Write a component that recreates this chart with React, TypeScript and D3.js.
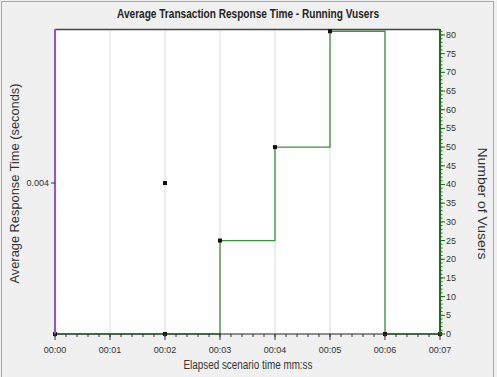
import React from "react";
import * as d3 from "d3";

const title = "Average Transaction Response Time - Running Vusers";
const xTickLabels = ["00:00", "00:01", "00:02", "00:03", "00:04", "00:05", "00:06", "00:07"];
const xTickValues = [0, 1, 2, 3, 4, 5, 6, 7];
const vuserTimes = [0, 2, 3, 4, 5, 6, 7];
const vuserValues = [0, 0, 25, 50, 81, 0, 0];
const respTimes = [2];
const respValues = [0.004];
const rightTicks = [0, 5, 10, 15, 20, 25, 30, 35, 40, 45, 50, 55, 60, 65, 70, 75, 80];
const leftTicks = [0.004];

const W = 497, H = 377;
const L = 55, R = 440, T = 29, B = 334;

export default function App() {
  const x = d3.scaleLinear().domain([0, 7]).range([L, R]);
  const yR = d3.scaleLinear().domain([0, 81.6]).range([B, T]);
  const yL = d3.scaleLinear().domain([0, 0.00808]).range([B, T]);
  const vPts: [number, number][] = vuserTimes.map((t, i) => [t, vuserValues[i]]);
  const line = d3.line<[number, number]>().x(d => x(d[0])).y(d => yR(d[1])).curve(d3.curveStepAfter);
  const minorX = d3.range(0, 7.001, 0.2);
  const minorR = d3.range(0, 82, 1);
  const font = "'Liberation Sans', Arial, sans-serif";
  return (
    <svg width={W} height={H} style={{ position: "absolute", left: 0, top: 0 }} fontFamily={font}>
      <rect x={0} y={0} width={W} height={H} fill="#f0f0f0" />
      <rect x={1.5} y={1.5} width={492} height={380} fill="none" stroke="#a8a8a8" />
      <text x={248} y={18} textAnchor="middle" fontSize={12.5} fontWeight="bold" fill="#222" textLength={262} lengthAdjust="spacingAndGlyphs">{title}</text>
      <rect x={L} y={T} width={R - L} height={B - T} fill="#fff" />
      {xTickValues.slice(1, -1).map(t => (
        <line key={"g" + t} x1={x(t)} x2={x(t)} y1={T} y2={B} stroke="#dcdcdc" />
      ))}
      {/* top border */}
      <line x1={L} x2={R} y1={T + 0.5} y2={T + 0.5} stroke="#444" strokeWidth={1.5} />
      {/* vusers line */}
      <path d={line(vPts) || ""} fill="none" stroke="#3f8f3f" strokeWidth={1.3} />
      {vPts.map((d, i) => (
        <rect key={"v" + i} x={x(d[0]) - 2} y={yR(d[1]) - 2} width={4} height={4} fill="#111" />
      ))}
      {respTimes.map((t, i) => (
        <rect key={"r" + i} x={x(t) - 2} y={yL(respValues[i]) - 2} width={4} height={4} fill="#111" />
      ))}
      {/* left axis */}
      <line x1={L} x2={L} y1={T} y2={B} stroke="#9b4fd8" strokeWidth={2} />
      {leftTicks.map(v => (
        <g key={"l" + v}>
          <line x1={L - 4} x2={L} y1={yL(v)} y2={yL(v)} stroke="#333" />
          <text x={L - 6} y={yL(v) + 3} textAnchor="end" fontSize={9} fill="#333">{v}</text>
        </g>
      ))}
      <text transform={`translate(19,${(T + B) / 2 + 2}) rotate(-90)`} textAnchor="middle" fontSize={12} fill="#333" textLength={200} lengthAdjust="spacingAndGlyphs">Average Response Time (seconds)</text>
      {/* bottom axis */}
      <line x1={L} x2={R} y1={B} y2={B} stroke="#222" strokeWidth={1.2} />
      {minorX.map((t, i) => (
        <line key={"mx" + i} x1={x(t)} x2={x(t)} y1={B} y2={B + 3} stroke="#333" />
      ))}
      {xTickValues.map((t, i) => (
        <g key={"x" + t}>
          <line x1={x(t)} x2={x(t)} y1={B} y2={B + 6} stroke="#333" />
          <text x={x(t)} y={B + 19} textAnchor="middle" fontSize={9} fill="#333">{xTickLabels[i]}</text>
        </g>
      ))}
      <text x={248} y={H - 8} textAnchor="middle" fontSize={12} fill="#333" textLength={129} lengthAdjust="spacingAndGlyphs">Elapsed scenario time mm:ss</text>
      {/* right axis */}
      <line x1={R} x2={R} y1={T} y2={B} stroke="#1d6b1d" strokeWidth={2} />
      {minorR.map(v => (
        <line key={"mr" + v} x1={R} x2={R + 2.5} y1={yR(v)} y2={yR(v)} stroke="#1d6b1d" />
      ))}
      {rightTicks.map(v => (
        <g key={"rt" + v}>
          <line x1={R} x2={R + 5} y1={yR(v)} y2={yR(v)} stroke="#1d6b1d" />
          <text x={R + 6} y={yR(v) + 3} fontSize={9} fill="#333">{v}</text>
        </g>
      ))}
      <text transform={`translate(478,${(T + B) / 2 + 22}) rotate(90)`} textAnchor="middle" fontSize={12} fill="#333" textLength={112} lengthAdjust="spacingAndGlyphs">Number of Vusers</text>
    </svg>
  );
}
